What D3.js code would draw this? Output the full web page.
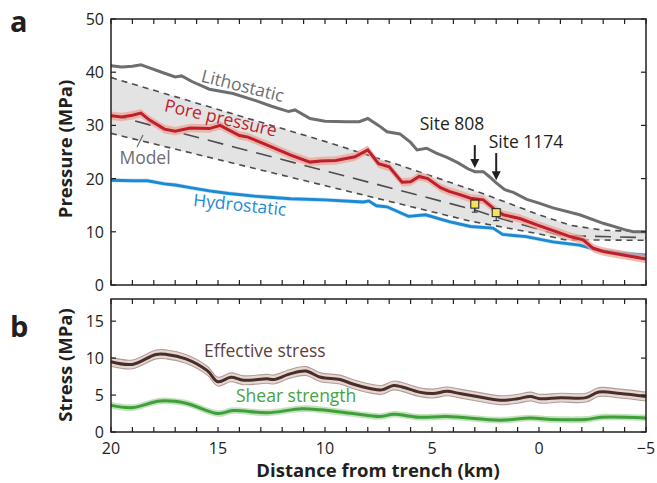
<!DOCTYPE html>
<html>
<head>
<meta charset="utf-8">
<script src="https://cdn.jsdelivr.net/npm/d3@7"></script>
<style>
  body { margin: 0; background: #fff; }
  svg { display: block; font-family: "Open Sans", "Noto Sans", sans-serif; }
  .tick-label { font-size: 16px; fill: #231f20; }
  .axis-title { font-size: 18.5px; font-weight: bold; fill: #231f20; }
</style>
</head>
<body>
<div id="container"></div>
<script>
// distance from trench (km) and values (MPa)
const lithostatic = [
  [20, 41.2], [19.5, 41.0], [19.0, 41.1], [18.6, 41.4], [18.2, 40.8], [17.5, 39.8],
  [17.0, 39.1], [16.7, 39.3], [16.2, 38.2], [15.4, 36.8], [14.3, 36.0], [13.2, 34.6],
  [12.5, 33.6], [11.7, 32.6], [11.4, 32.9], [10.7, 31.3], [10.0, 30.8], [9.0, 30.7],
  [8.4, 30.7], [8.0, 31.3], [7.5, 30.0], [7.1, 28.8], [6.5, 28.4], [6.0, 26.8],
  [5.7, 25.4], [5.25, 25.7], [4.8, 24.8], [4.3, 24.0], [3.8, 23.0], [3.3, 21.8],
  [3.0, 21.3], [2.6, 21.3], [2.3, 20.3], [2.0, 19.2], [1.6, 17.9], [1.2, 17.4],
  [0.57, 16.1], [0.0, 15.4], [-0.65, 14.5], [-1.9, 13.2], [-3.0, 11.6], [-4.0, 10.4],
  [-4.4, 10.0], [-5, 10.0]
];

const porePressure = [
  [20, 31.8], [19.5, 31.6], [19.0, 31.9], [18.6, 32.3], [18.2, 31.0], [17.5, 29.3],
  [17.0, 28.9], [16.3, 29.5], [15.4, 29.4], [14.9, 30.0], [14.0, 28.1], [13.6, 27.8],
  [12.7, 26.3], [11.6, 24.4], [10.7, 23.1], [10.2, 23.3], [9.5, 23.4], [8.6, 24.1],
  [8.0, 25.4], [7.5, 22.8], [7.0, 22.2], [6.4, 19.3], [6.0, 19.4], [5.6, 20.4],
  [5.2, 20.0], [4.6, 18.3], [4.2, 17.6], [3.7, 17.0], [3.2, 16.3], [2.6, 16.0],
  [2.13, 14.4], [1.67, 13.2], [0.9, 12.5], [0.1, 11.3], [-0.83, 10.0], [-1.45, 9.1],
  [-2.06, 8.5], [-2.54, 6.9], [-3.0, 6.3], [-4.0, 5.6], [-5, 4.9]
];

const hydrostatic = [
  [20, 19.7], [19.0, 19.6], [18.3, 19.6], [17.5, 19.0], [17.0, 18.8], [16.3, 18.3],
  [15.4, 17.7], [14.5, 17.2], [13.3, 16.7], [12.6, 16.5], [11.6, 16.2], [10.0, 16.0],
  [8.2, 15.6], [7.95, 15.8], [7.6, 14.9], [7.1, 14.7], [6.1, 12.9], [5.3, 13.2],
  [4.2, 11.9], [3.2, 11.0], [2.15, 10.7], [1.7, 9.5], [0.6, 9.1], [-0.65, 8.1],
  [-1.9, 7.5], [-2.7, 6.6], [-3.8, 6.0], [-5, 5.6]
];

const modelUpper = [[20, 39.0], [10, 27.0], [6.5, 22.5], [2.7, 17.3], [0, 13.2], [-1.5, 11.2], [-3, 10.3], [-5, 10.0]];
const modelMiddle = [[20, 32.0], [3, 14.1], [1.8, 12.5], [-1, 9.3], [-5, 8.9]];
const modelLower = [[20, 28.5], [3.2, 12.0], [0, 9.6], [-1.2, 8.5], [-5, 8.4]];

const sites = [
  {name: "Site 808", d: 3.0, p: 15.2, arrowTop: 26.3, arrowTip: 22.0},
  {name: "Site 1174", d: 2.0, p: 13.6, arrowTop: 24.8, arrowTip: 19.7}
];

const effectiveStress = [
  [20, 9.5], [19, 9.15], [17.9, 10.5], [17.4, 10.5], [16.5, 9.9], [15.5, 8.3], [15.0, 6.8],
  [14.4, 7.4], [13.8, 7.0], [12.7, 7.2], [12.4, 7.1], [11.6, 7.9], [10.9, 8.25], [10.2, 7.4],
  [9.3, 7.1], [8.7, 6.5], [7.9, 5.9], [7.35, 5.7], [6.8, 6.3], [6.4, 6.1], [5.6, 5.4],
  [4.95, 5.2], [4.3, 5.5], [3.7, 5.2], [2.9, 4.8], [1.8, 4.3], [1.0, 4.5], [0.4, 4.8],
  [-0.05, 4.5], [-1, 4.65], [-2.2, 4.65], [-2.8, 5.4], [-3.8, 5.2], [-5, 4.8]
];

const shearStrength = [
  [20, 3.6], [19, 3.3], [17.7, 4.2], [16.5, 3.9], [15, 2.5], [14.3, 2.9], [12.7, 2.6],
  [11.1, 3.15], [10.2, 3.0], [8.7, 2.5], [7.4, 2.1], [6.8, 2.4], [5.6, 2.0], [4.3, 2.1],
  [1.8, 1.6], [0.4, 1.9], [-0.6, 1.7], [-2.2, 1.7], [-2.9, 2.0], [-5, 1.9]
];

const xTickLabels = [20, 15, 10, 5, 0, -5];
const pressureTicks = [0, 10, 20, 30, 40, 50];
const stressTicks = [0, 5, 10, 15];

const width = 657, height = 483;
const svg = d3.select("#container").append("svg")
    .attr("width", width).attr("height", height);

const x = d3.scaleLinear().domain([20, -5]).range([111, 646]);
const yP = d3.scaleLinear().domain([0, 50]).range([285, 19]);
const yS = d3.scaleLinear().domain([0, 18]).range([432, 299]);

const ink = "#231f20";

function line(y, curve) {
  return d3.line().x(d => x(d[0])).y(d => y(d[1])).curve(curve || d3.curveLinear);
}
function band(y, half, curve) {
  return d3.area().x(d => x(d[0])).y0(d => y(d[1] - half)).y1(d => y(d[1] + half))
    .curve(curve || d3.curveLinear);
}

// ---- panel a ----
const gA = svg.append("g");

// model band: upper line then lower line reversed
const bandPts = modelUpper.map(d => [x(d[0]), yP(d[1])])
  .concat(modelLower.slice().reverse().map(d => [x(d[0]), yP(d[1])]));
gA.append("path")
    .attr("d", "M" + bandPts.join("L") + "Z")
    .attr("fill", "#e3e3e4");

[modelUpper, modelLower].forEach(m => {
  gA.append("path").attr("d", line(yP)(m))
      .attr("fill", "none").attr("stroke", "#4d4d4f")
      .attr("stroke-width", 1.6).attr("stroke-dasharray", "6,5");
});
gA.append("path").attr("d", line(yP)(modelMiddle))
    .attr("fill", "none").attr("stroke", "#4d4d4f")
    .attr("stroke-width", 1.6).attr("stroke-dasharray", "16,9");

// hydrostatic
gA.append("path").attr("d", band(yP, 0.4)(hydrostatic))
    .attr("fill", "#9fcdee").attr("opacity", 0.6);
gA.append("path").attr("d", line(yP)(hydrostatic))
    .attr("fill", "none").attr("stroke", "#1b8ad3").attr("stroke-width", 2.9);

// lithostatic
gA.append("path").attr("d", line(yP)(lithostatic))
    .attr("fill", "none").attr("stroke", "#6d6e71").attr("stroke-width", 3);

// pore pressure with uncertainty band
gA.append("path").attr("d", band(yP, 0.8)(porePressure))
    .attr("fill", "#eba596").attr("opacity", 0.75);
gA.append("path").attr("d", line(yP)(porePressure))
    .attr("fill", "none").attr("stroke", "#be1e2d").attr("stroke-width", 3);

// sites
sites.forEach(s => {
  const sx = x(s.d), sy = yP(s.p);
  gA.append("line").attr("x1", sx).attr("x2", sx).attr("y1", sy).attr("y2", sy + 8)
      .attr("stroke", ink).attr("stroke-width", 1);
  gA.append("line").attr("x1", sx - 3).attr("x2", sx + 3).attr("y1", sy + 8).attr("y2", sy + 8)
      .attr("stroke", ink).attr("stroke-width", 1);
  gA.append("rect").attr("x", sx - 4).attr("y", sy - 4).attr("width", 8).attr("height", 8)
      .attr("fill", "#f5e35a").attr("stroke", ink).attr("stroke-width", 1);
  const ay0 = yP(s.arrowTop), ay1 = yP(s.arrowTip);
  gA.append("line").attr("x1", sx).attr("x2", sx).attr("y1", ay0).attr("y2", ay1 - 6)
      .attr("stroke", ink).attr("stroke-width", 2);
  gA.append("path")
      .attr("d", `M${sx - 4.5},${ay1 - 9}L${sx + 4.5},${ay1 - 9}L${sx},${ay1}Z`)
      .attr("fill", ink);
});
gA.append("text").attr("x", 452).attr("y", 130).attr("text-anchor", "middle")
    .attr("font-size", 17.5).attr("fill", ink).text("Site 808");
gA.append("text").attr("x", 526).attr("y", 148).attr("text-anchor", "middle")
    .attr("font-size", 17.5).attr("fill", ink).text("Site 1174");

// curve labels
function label(g, txt, cx, cy, angle, color) {
  g.append("text")
      .attr("transform", `translate(${cx},${cy}) rotate(${angle})`)
      .attr("text-anchor", "middle").attr("dominant-baseline", "central")
      .attr("font-size", 17.5).attr("fill", color).text(txt);
}
label(gA, "Lithostatic", 243, 85, 14, "#6d6e71");
label(gA, "Pore pressure", 221, 117, 13, "#be1e2d");
label(gA, "Hydrostatic", 240, 204, 6, "#1b8ad3");
label(gA, "Model", 145, 157, 0, "#6d6e71");
gA.append("line").attr("x1", 137).attr("y1", 147).attr("x2", 143).attr("y2", 135)
    .attr("stroke", "#6d6e71").attr("stroke-width", 1.2);

// ---- panel b ----
const gB = svg.append("g");
const smooth = d3.curveCatmullRom.alpha(0.5);

gB.append("path").attr("d", band(yS, 0.45, smooth)(shearStrength))
    .attr("fill", "#a9d6a0").attr("opacity", 0.7);
gB.append("path").attr("d", line(yS, smooth)(shearStrength))
    .attr("fill", "none").attr("stroke", "#3e9f3b").attr("stroke-width", 3);

gB.append("path").attr("d", band(yS, 0.6, smooth)(effectiveStress))
    .attr("fill", "#e4d8d5");
["lo", "hi"].forEach(k => {
  const off = k === "lo" ? -0.6 : 0.6;
  gB.append("path")
      .attr("d", line(yS, smooth)(effectiveStress.map(d => [d[0], d[1] + off])))
      .attr("fill", "none").attr("stroke", "#b49b95").attr("stroke-width", 1.1);
});
gB.append("path").attr("d", line(yS, smooth)(effectiveStress))
    .attr("fill", "none").attr("stroke", "#4b2e28").attr("stroke-width", 3);

gB.append("text").attr("x", 204).attr("y", 357).attr("font-size", 17.5)
    .attr("fill", "#5d403a").text("Effective stress");
gB.append("text").attr("x", 236).attr("y", 402).attr("font-size", 17.5)
    .attr("fill", "#45a342").text("Shear strength");

// ---- frames, ticks, labels ----
const kmTicks = d3.range(-5, 21, 1);

function frame(y, yTicks, top, bottom) {
  const g = svg.append("g");
  g.append("rect").attr("x", 111).attr("y", top).attr("width", 535).attr("height", bottom - top)
      .attr("fill", "none").attr("stroke", ink).attr("stroke-width", 1.5);
  kmTicks.forEach(t => {
    g.append("line").attr("x1", x(t)).attr("x2", x(t)).attr("y1", top).attr("y2", top + 5)
        .attr("stroke", ink).attr("stroke-width", 1.2);
    g.append("line").attr("x1", x(t)).attr("x2", x(t)).attr("y1", bottom).attr("y2", bottom - 5)
        .attr("stroke", ink).attr("stroke-width", 1.2);
  });
  yTicks.forEach(t => {
    g.append("line").attr("x1", 111).attr("x2", 116).attr("y1", y(t)).attr("y2", y(t))
        .attr("stroke", ink).attr("stroke-width", 1.2);
    g.append("line").attr("x1", 646).attr("x2", 641).attr("y1", y(t)).attr("y2", y(t))
        .attr("stroke", ink).attr("stroke-width", 1.2);
    g.append("text").attr("class", "tick-label").attr("x", 104).attr("y", y(t))
        .attr("text-anchor", "end").attr("dominant-baseline", "central").text(t);
  });
}
frame(yP, pressureTicks, 19, 285);
frame(yS, stressTicks, 299, 432);

xTickLabels.forEach(t => {
  svg.append("text").attr("class", "tick-label").attr("x", x(t)).attr("y", 454)
      .attr("text-anchor", "middle").text(t < 0 ? "\u2212" + Math.abs(t) : t);
});

svg.append("text").attr("class", "axis-title").attr("x", 378).attr("y", 477)
    .attr("text-anchor", "middle").text("Distance from trench (km)");
svg.append("text").attr("class", "axis-title")
    .attr("transform", "translate(72,149) rotate(-90)")
    .attr("text-anchor", "middle").text("Pressure (MPa)");
svg.append("text").attr("class", "axis-title")
    .attr("transform", "translate(72,365) rotate(-90)")
    .attr("text-anchor", "middle").text("Stress (MPa)");

svg.append("text").attr("x", 10).attr("y", 32).attr("font-size", 29)
    .attr("font-weight", "bold").attr("fill", ink).text("a");
svg.append("text").attr("x", 10).attr("y", 337).attr("font-size", 29)
    .attr("font-weight", "bold").attr("fill", ink).text("b");
</script>
</body>
</html>
